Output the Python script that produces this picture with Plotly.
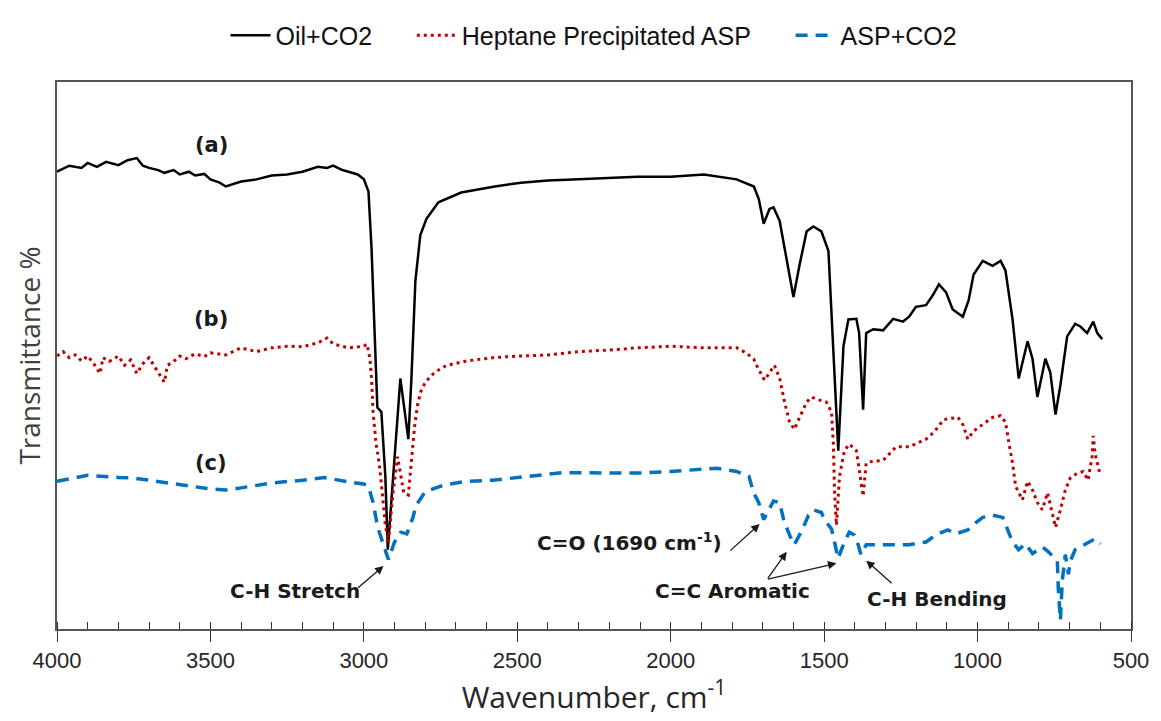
import plotly.graph_objects as go

# ---------------- data ----------------
wn_a = [4000, 3960, 3920, 3900, 3870, 3840, 3800, 3770, 3740, 3720, 3700, 3670, 3650, 3620, 3600,
        3570, 3550, 3520, 3500, 3470, 3450, 3420, 3400, 3350, 3300, 3250, 3200, 3150, 3120, 3100,
        3070, 3050, 3020, 3000, 2985, 2975, 2962, 2956, 2943, 2930, 2922, 2897, 2881, 2855, 2845,
        2832, 2816, 2796, 2757, 2683, 2573, 2488, 2400, 2300, 2200, 2109, 2000, 1892, 1785, 1729,
        1713, 1697, 1678, 1665, 1645, 1622, 1600, 1580, 1557, 1535, 1509, 1486, 1470, 1454, 1437,
        1421, 1395, 1386, 1373, 1363, 1340, 1308, 1275, 1243, 1223, 1201, 1168, 1146, 1126, 1103,
        1081, 1048, 1029, 1013, 983, 951, 925, 909, 886, 866, 837, 821, 805, 779, 763, 746, 730,
        708, 682, 665, 643, 623, 610, 594]
t_a = [83.6, 84.7, 84.3, 85.2, 84.5, 85.4, 84.8, 85.7, 86.1, 84.7, 84.3, 83.9, 83.4, 83.9, 83.1,
       83.6, 82.9, 83.2, 82.2, 81.6, 80.9, 81.4, 81.8, 82.2, 82.9, 83.1, 83.6, 84.5, 84.3, 84.7,
       83.9, 83.6, 83.1, 82.2, 80.0, 69.6, 51.7, 40.5, 39.7, 27.9, 14.5, 33.8, 45.8, 34.7, 45.8,
       63.7, 72.0, 75.0, 78.0, 79.8, 80.9, 81.6, 82.0, 82.2, 82.5, 82.7, 82.7, 83.1, 82.2, 80.9,
       78.6, 74.1, 76.8, 77.1, 74.6, 67.8, 60.7, 66.6, 72.7, 73.6, 72.7, 69.1, 51.7, 32.6, 51.7,
       56.6, 56.7, 54.1, 40.1, 54.1, 54.8, 54.6, 56.7, 56.2, 57.1, 58.9, 59.2, 61.0, 63.0, 61.6,
       58.4, 57.1, 60.1, 64.8, 67.3, 66.4, 67.3, 65.5, 56.6, 45.8, 52.6, 49.4, 42.4, 49.4, 46.9,
       39.2, 44.6, 53.5, 55.8, 55.3, 54.1, 56.2, 54.1, 53.0]

wn_b = [4000, 3980, 3960, 3940, 3920, 3900, 3880, 3860, 3850, 3830, 3800, 3780, 3760, 3740, 3720,
        3700, 3680, 3660, 3650, 3640, 3620, 3600, 3580, 3550, 3520, 3500, 3450, 3400, 3350, 3300,
        3250, 3200, 3150, 3120, 3100, 3050, 3000, 2990, 2980, 2975, 2970, 2960, 2950, 2940, 2930,
        2920, 2905, 2890, 2880, 2870, 2855, 2845, 2835, 2825, 2815, 2800, 2770, 2730, 2665, 2580,
        2500, 2400, 2300, 2200, 2109, 2000, 1892, 1785, 1755, 1730, 1715, 1694, 1678, 1662, 1645,
        1629, 1613, 1597, 1580, 1557, 1541, 1519, 1493, 1476, 1470, 1466, 1460, 1450, 1434, 1418,
        1395, 1386, 1373, 1363, 1347, 1308, 1266, 1223, 1168, 1142, 1110, 1064, 1048, 1032, 1013,
        983, 951, 925, 909, 899, 886, 876, 854, 837, 821, 805, 789, 772, 756, 746, 730, 714, 698,
        675, 656, 640, 627, 623, 617, 610, 600]
t_b = [49.9, 50.7, 49.6, 50.1, 49.0, 49.9, 48.5, 46.7, 49.6, 48.9, 49.9, 48.2, 49.2, 46.7, 48.5,
       49.6, 47.8, 46.0, 45.1, 48.2, 48.9, 49.9, 49.4, 50.3, 49.8, 50.5, 50.1, 51.4, 50.7, 51.4,
       51.7, 51.6, 52.3, 53.2, 52.1, 51.4, 51.7, 52.1, 49.4, 45.8, 39.7, 33.8, 30.3, 24.9, 19.0,
       15.9, 24.9, 31.5, 28.5, 24.9, 24.5, 30.3, 36.9, 41.0, 43.3, 45.1, 46.9, 48.2, 49.0, 49.6,
       49.9, 50.1, 50.7, 51.0, 51.4, 51.7, 51.4, 51.4, 50.5, 49.4, 47.6, 45.5, 46.9, 48.2, 45.8,
       41.5, 37.9, 36.5, 38.7, 41.5, 42.4, 41.9, 41.5, 39.7, 33.8, 24.9, 19.0, 27.9, 32.6, 33.8,
       32.6, 29.0, 24.3, 30.3, 30.6, 30.8, 33.3, 33.3, 34.7, 36.0, 38.3, 38.7, 37.4, 34.7, 36.2,
       37.4, 38.7, 39.0, 37.8, 34.4, 30.3, 26.1, 23.6, 27.0, 25.4, 23.1, 21.8, 24.9, 21.3, 18.6,
       21.8, 25.4, 27.6, 28.5, 28.8, 27.2, 31.5, 35.3, 32.0, 30.3, 28.1]

wn_c = [4000, 3900, 3800, 3750, 3700, 3600, 3550, 3500, 3450, 3400, 3300, 3200, 3130, 3050, 3000,
        2985, 2970, 2955, 2940, 2920, 2900, 2880, 2860, 2840, 2830, 2800, 2740, 2665, 2580, 2500,
        2350, 2200, 2109, 2000, 1850, 1785, 1745, 1730, 1713, 1697, 1665, 1645, 1632, 1613, 1597,
        1570, 1551, 1535, 1509, 1499, 1476, 1466, 1455, 1434, 1418, 1402, 1389, 1380, 1363, 1330,
        1288, 1223, 1168, 1136, 1097, 1071, 1032, 1016, 983, 951, 918, 909, 886, 866, 844, 821,
        789, 769, 740, 737, 730, 724, 714, 704, 698, 682, 649, 617, 600]
t_c = [27.0, 28.1, 27.7, 27.6, 27.2, 26.5, 26.0, 25.6, 25.4, 25.8, 26.7, 27.2, 27.7, 26.9, 26.5,
       26.1, 23.1, 18.6, 15.9, 12.7, 15.9, 17.7, 17.4, 20.4, 22.6, 25.1, 26.3, 27.0, 27.2, 27.7,
       28.6, 28.5, 28.5, 28.8, 29.4, 28.8, 27.9, 24.9, 23.1, 20.0, 23.4, 23.1, 20.0, 17.2, 15.4,
       18.3, 20.8, 21.8, 21.3, 20.0, 18.3, 15.9, 12.9, 15.9, 17.7, 17.2, 15.4, 13.6, 15.4, 15.4,
       15.4, 15.4, 15.9, 17.2, 18.1, 17.4, 18.1, 19.0, 20.4, 20.8, 20.4, 19.2, 15.9, 14.5, 15.6,
       13.8, 15.0, 14.1, 12.4, 7.5, 1.6, 8.8, 13.6, 10.0, 12.4, 14.5, 15.6, 16.5, 15.6]

series_names = ["Oil+CO2", "Heptane Precipitated ASP", "ASP+CO2"]
curve_labels = ["(a)", "(b)", "(c)"]
label_pos_wn = [3497, 3497, 3497]
label_pos_t = [88.4, 56.6, 30.3]

x_ticks = [4000, 3500, 3000, 2500, 2000, 1500, 1000, 500]

# band assignments: (text, text_wn, text_t)
band_texts = [("C-H Stretch", 3225, 7.0),
              ("C=O (1690 cm<sup>-1</sup>)", 2135, 15.9),
              ("C=C Aromatic", 1798, 7.0),
              ("C-H Bending", 1133, 5.5)]
# arrows: (head_wn, head_t, tail dx px, tail dy px)
arrows = [(2936, 11.5, -27, 23),
          (1710, 19.2, -31, 28),
          (1622, 14.1, -20, 28),
          (1460, 12.0, -70, 16),
          (1363, 12.5, 27, 24)]

# ---------------- figure ----------------
pad = "\u00a0" * 5
fig = go.Figure()
fig.add_trace(go.Scatter(x=wn_a, y=t_a, mode="lines", name=series_names[0] + pad,
                         line=dict(color="#000000", width=2.5)))
fig.add_trace(go.Scatter(x=wn_b, y=t_b, mode="lines", name=series_names[1] + pad,
                         line=dict(color="#C00000", width=3, dash="3px,4px")))
fig.add_trace(go.Scatter(x=wn_c, y=t_c, mode="lines", name=series_names[2],
                         line=dict(color="#0070C0", width=3.5, dash="12px,8px")))

ann_font = "DejaVu Sans, Liberation Sans, Arial"
ann = []
for lab, xw, yt in zip(curve_labels, label_pos_wn, label_pos_t):
    ann.append(dict(x=xw, y=yt, xref="x", yref="y", text="<b>" + lab + "</b>", showarrow=False,
                    font=dict(family=ann_font, size=21, color="#1a1a1a")))
for txt, xw, yt in band_texts:
    ann.append(dict(x=xw, y=yt, xref="x", yref="y", text="<b>" + txt + "</b>", showarrow=False,
                    font=dict(family=ann_font, size=20, color="#1a1a1a")))
for hx, hy, dx, dy in arrows:
    ann.append(dict(x=hx, y=hy, xref="x", yref="y", text="", showarrow=True,
                    ax=dx, ay=dy, arrowhead=2, arrowsize=1.3, arrowwidth=1.3,
                    arrowcolor="#1a1a1a", standoff=0, startstandoff=0))

tick_font = dict(family="Liberation Sans Narrow, Arial Narrow, Liberation Sans, Arial",
                 size=22, color="#262626")

fig.update_layout(
    width=1161, height=721,
    margin=dict(l=57, r=25, t=70, b=92),
    paper_bgcolor="white", plot_bgcolor="white",
    showlegend=True,
    legend=dict(orientation="h", x=0.5, xanchor="center", y=1.085, yanchor="middle",
                font=dict(family="Liberation Sans, Arial", size=25, color="#111111"),
                itemwidth=40, tracegroupgap=0, bgcolor="rgba(0,0,0,0)"),
    xaxis=dict(range=[4000, 500], tickvals=x_ticks, ticks="outside", ticklen=11, tickwidth=1.3,
               tickcolor="#333333", showline=True, linecolor="#555555", linewidth=1.5, mirror=True,
               showgrid=False, zeroline=False, tickfont=tick_font,
               minor=dict(dtick=100, ticks="inside", ticklen=7, tickwidth=1, tickcolor="#333333",
                          showgrid=False),
               title=dict(text="Wavenumber, cm<sup>-1</sup>", standoff=8,
                          font=dict(family="Open Sans, Liberation Sans, Arial",
                                    size=30, color="#262626"))),
    xaxis2=dict(range=[4000, 500], overlaying="x", anchor="y", side="bottom", tickvals=x_ticks,
                ticks="inside", ticklen=8, tickwidth=1.3, tickcolor="#333333",
                showticklabels=False, showline=False, showgrid=False, zeroline=False),
    yaxis=dict(range=[0, 100], showticklabels=False, ticks="", showgrid=False, zeroline=False,
               showline=True, linecolor="#555555", linewidth=1.5, mirror=True,
               title=dict(text="Transmittance %", standoff=6,
                          font=dict(family="Open Sans, Liberation Sans, Arial", size=28,
                                    color="#404040"))),
    annotations=ann,
)

fig.write_html("out.html")
